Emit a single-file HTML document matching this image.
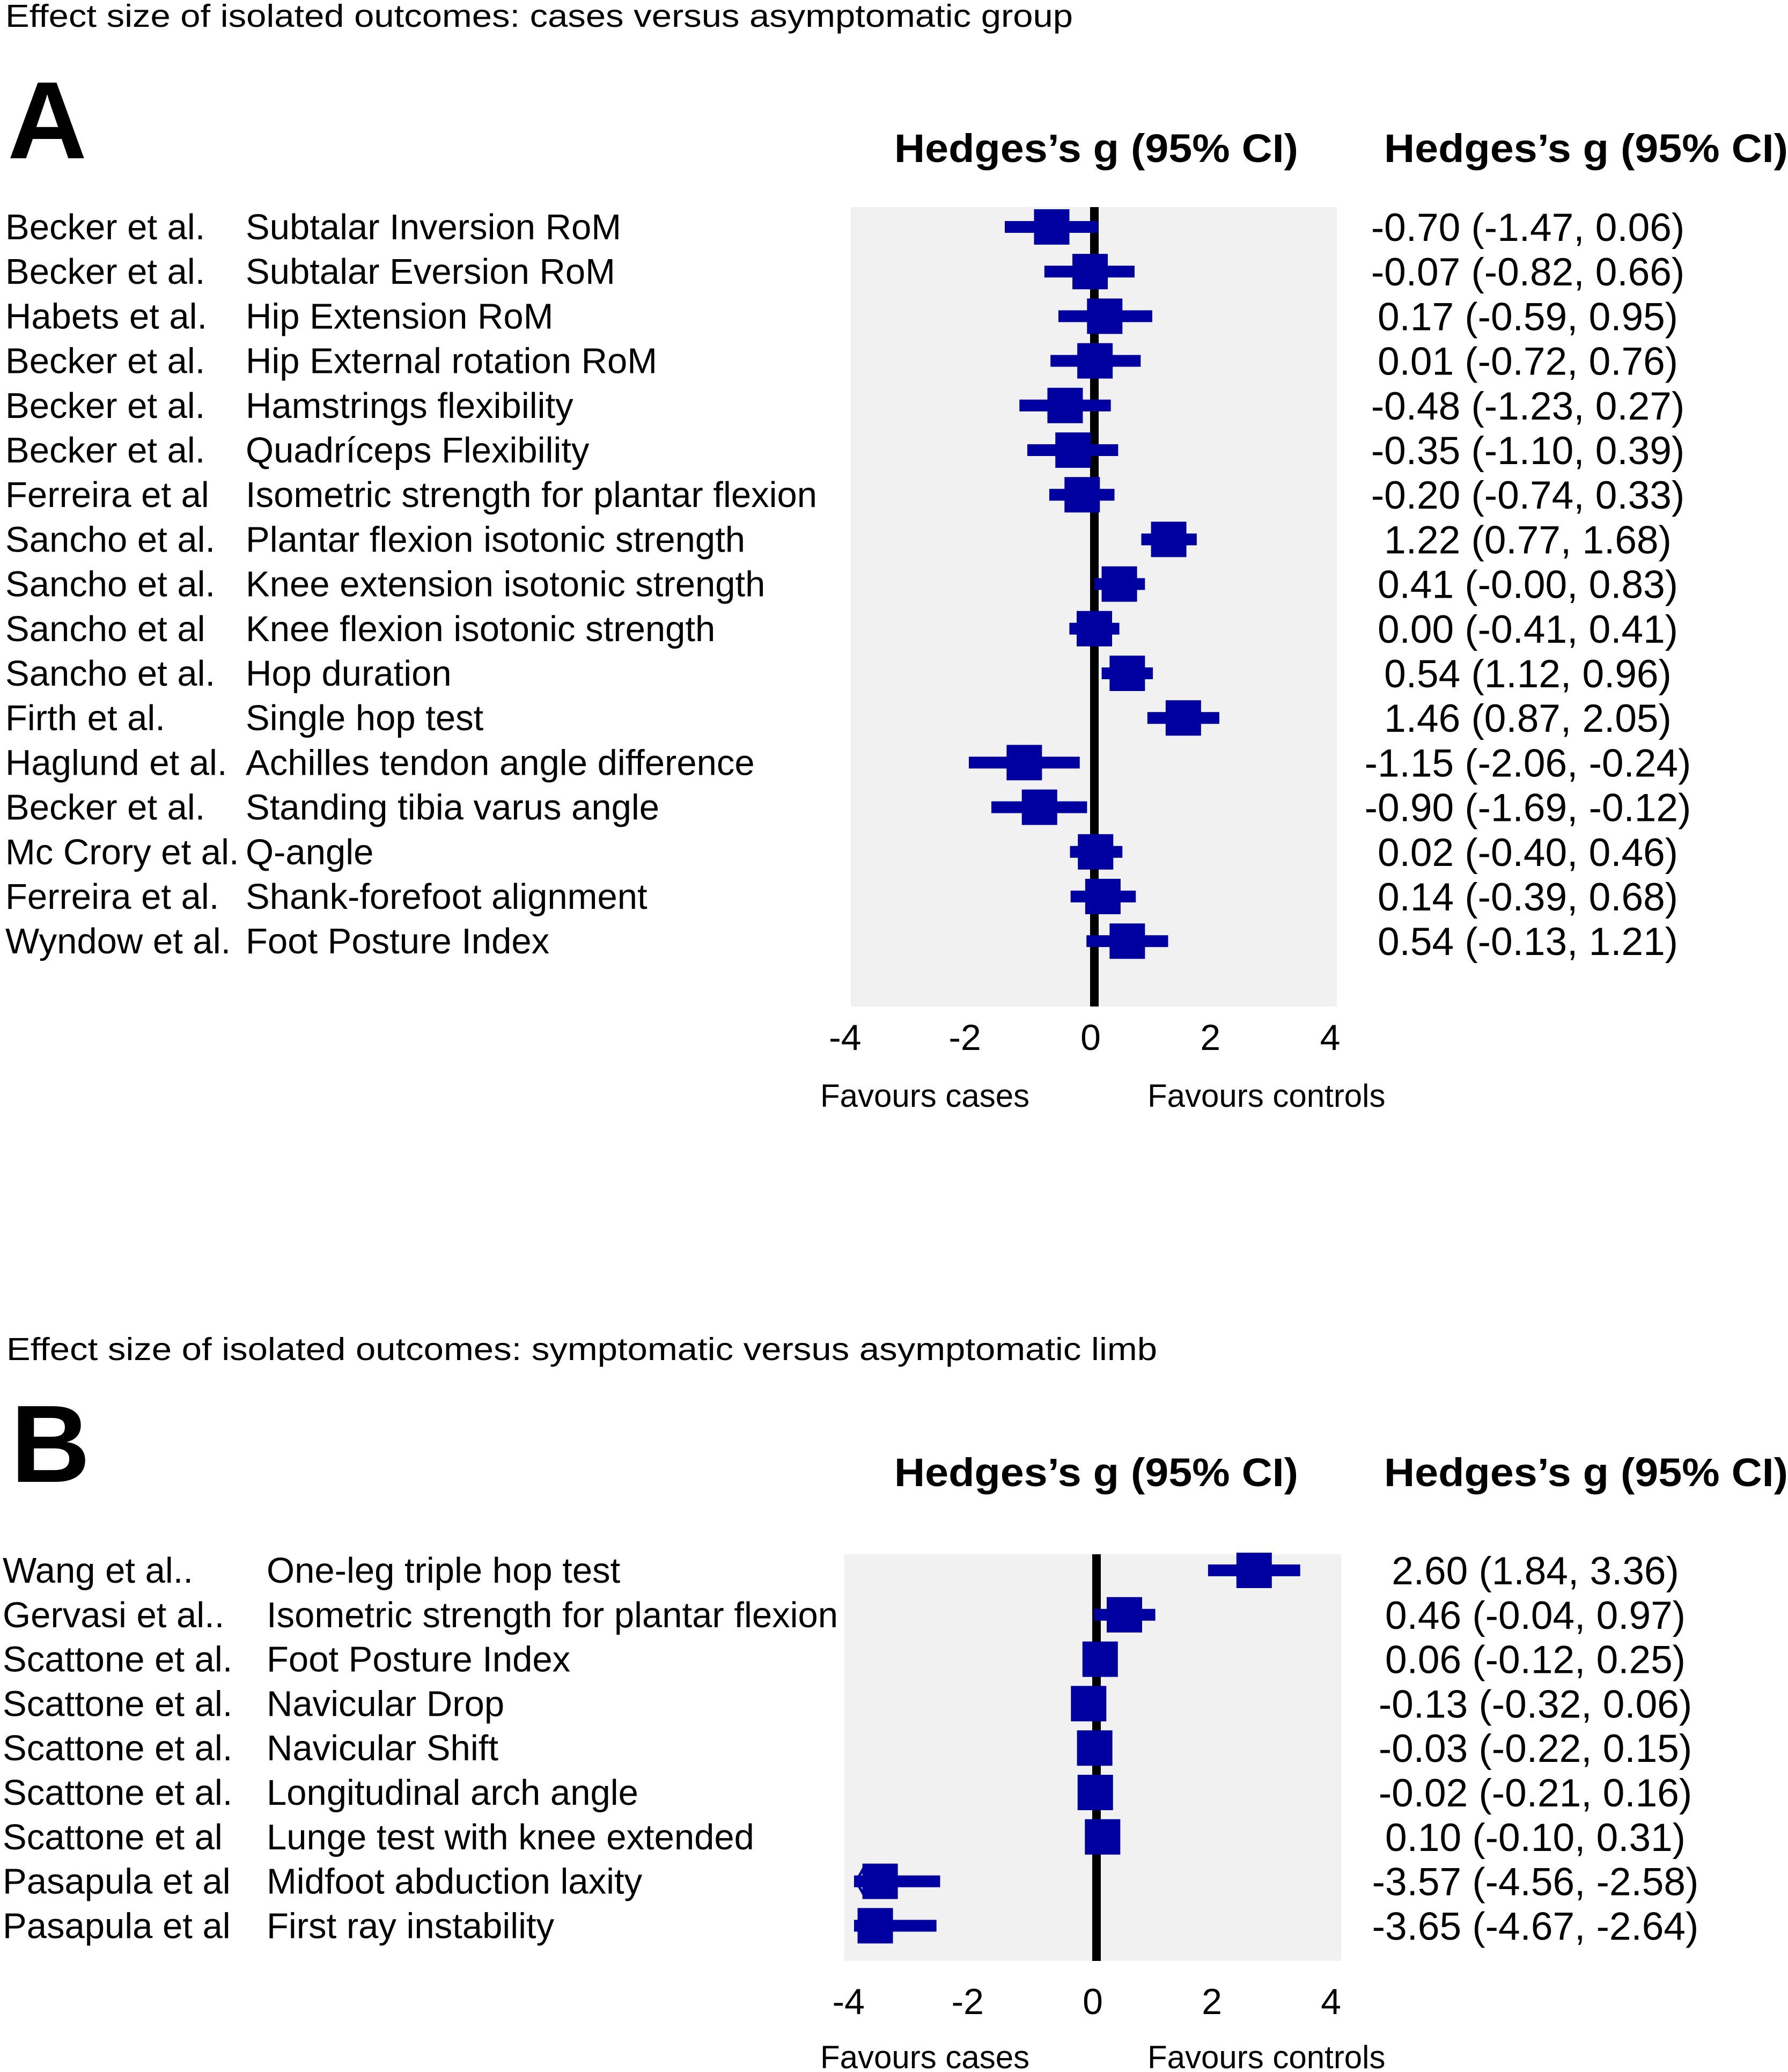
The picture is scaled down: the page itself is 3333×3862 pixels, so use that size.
<!DOCTYPE html>
<html><head><meta charset="utf-8"><style>
html,body{margin:0;padding:0;background:#fff}
svg{display:block;font-family:"Liberation Sans",Arial,sans-serif}
</style></head><body>
<svg id="fig" width="3333" height="3862" viewBox="0 0 3333 3862" xmlns="http://www.w3.org/2000/svg">
<text x="10" y="50" font-size="59" textLength="1990" lengthAdjust="spacingAndGlyphs">Effect size of isolated outcomes: cases versus asymptomatic group</text>
<text x="14" y="295" font-size="205" font-weight="bold">A</text>
<text x="1667" y="302" font-size="74" font-weight="bold" textLength="753" lengthAdjust="spacingAndGlyphs">Hedges’s g (95% CI)</text>
<text x="2580" y="302" font-size="74" font-weight="bold" textLength="753" lengthAdjust="spacingAndGlyphs">Hedges’s g (95% CI)</text>
<text x="12" y="2535" font-size="59" textLength="2145" lengthAdjust="spacingAndGlyphs">Effect size of isolated outcomes: symptomatic versus asymptomatic limb</text>
<text x="20" y="2762" font-size="205" font-weight="bold">B</text>
<text x="1667" y="2770" font-size="74" font-weight="bold" textLength="753" lengthAdjust="spacingAndGlyphs">Hedges’s g (95% CI)</text>
<text x="2580" y="2770" font-size="74" font-weight="bold" textLength="753" lengthAdjust="spacingAndGlyphs">Hedges’s g (95% CI)</text>
</svg>
<script>
const studiesA = ["Becker et al.","Becker et al.","Habets et al.","Becker et al.","Becker et al.","Becker et al.","Ferreira et al","Sancho et al.","Sancho et al.","Sancho et al","Sancho et al.","Firth et al.","Haglund et al.","Becker et al.","Mc Crory et al.","Ferreira et al.","Wyndow et al."];
const outcomesA = ["Subtalar Inversion RoM","Subtalar Eversion RoM","Hip Extension RoM","Hip External rotation RoM","Hamstrings flexibility","Quadríceps Flexibility","Isometric strength for plantar flexion","Plantar flexion isotonic strength","Knee extension isotonic strength","Knee flexion isotonic strength","Hop duration","Single hop test","Achilles tendon angle difference","Standing tibia varus angle","Q-angle","Shank-forefoot alignment","Foot Posture Index"];
const estA = [-0.70,-0.07,0.17,0.01,-0.48,-0.35,-0.20,1.22,0.41,0.00,0.54,1.46,-1.15,-0.90,0.02,0.14,0.54];
const lowA = [-1.47,-0.82,-0.59,-0.72,-1.23,-1.10,-0.74,0.77,-0.00,-0.41,0.12,0.87,-2.06,-1.69,-0.40,-0.39,-0.13];
const highA = [0.06,0.66,0.95,0.76,0.27,0.39,0.33,1.68,0.83,0.41,0.96,2.05,-0.24,-0.12,0.46,0.68,1.21];
const labelsA = ["-0.70 (-1.47, 0.06)","-0.07 (-0.82, 0.66)","0.17 (-0.59, 0.95)","0.01 (-0.72, 0.76)","-0.48 (-1.23, 0.27)","-0.35 (-1.10, 0.39)","-0.20 (-0.74, 0.33)","1.22 (0.77, 1.68)","0.41 (-0.00, 0.83)","0.00 (-0.41, 0.41)","0.54 (1.12, 0.96)","1.46 (0.87, 2.05)","-1.15 (-2.06, -0.24)","-0.90 (-1.69, -0.12)","0.02 (-0.40, 0.46)","0.14 (-0.39, 0.68)","0.54 (-0.13, 1.21)"];
const studiesB = ["Wang et al..","Gervasi et al..","Scattone et al.","Scattone et al.","Scattone et al.","Scattone et al.","Scattone et al","Pasapula et al","Pasapula et al"];
const outcomesB = ["One-leg triple hop test","Isometric strength for plantar flexion","Foot Posture Index","Navicular Drop","Navicular Shift","Longitudinal arch angle","Lunge test with knee extended","Midfoot abduction laxity","First ray instability"];
const estB = [2.60,0.46,0.06,-0.13,-0.03,-0.02,0.10,-3.57,-3.65];
const lowB = [1.84,-0.04,-0.12,-0.32,-0.22,-0.21,-0.10,-4.56,-4.67];
const highB = [3.36,0.97,0.25,0.06,0.15,0.16,0.31,-2.58,-2.64];
const labelsB = ["2.60 (1.84, 3.36)","0.46 (-0.04, 0.97)","0.06 (-0.12, 0.25)","-0.13 (-0.32, 0.06)","-0.03 (-0.22, 0.15)","-0.02 (-0.21, 0.16)","0.10 (-0.10, 0.31)","-3.57 (-4.56, -2.58)","-3.65 (-4.67, -2.64)"];
const ticks = [-4,-2,0,2,4];

const NS="http://www.w3.org/2000/svg";
const svg=document.getElementById('fig');
function mk(tag,attrs,parent){const e=document.createElementNS(NS,tag);for(const k in attrs)e.setAttribute(k,attrs[k]);(parent||svg).appendChild(e);return e;}

function panel(cfg){
  const xs=v=>cfg.zero+v*cfg.unit;
  const ys=i=>cfg.y0+i*cfg.step;
  const g=mk('g',{});
  
  
  const bg=mk('rect',{x:cfg.gx0,y:cfg.gy0,width:cfg.gx1-cfg.gx0,height:cfg.gy1-cfg.gy0,fill:'#f1f1f1'},g);
  
  
  const zl=mk('rect',{x:xs(0)-8,y:cfg.gy0,width:16,height:cfg.gy1-cfg.gy0,fill:'#000'},g);
  
  
  cfg.est.forEach((e,i)=>{
    const y=ys(i);
    const lo=Math.max(cfg.low[i],-4), hi=Math.min(cfg.high[i],4);
    const ci=mk('rect',{x:xs(lo),y:y-11,width:xs(hi)-xs(lo),height:22,fill:'#0000a0'},g);
    
    
    const bx=mk('rect',{x:xs(e)-33,y:y-33,width:66,height:66,fill:'#0000a0'},g);
    
    
    if(cfg.low[i]<-4){
      const a=mk('polyline',{points:(xs(-4)+22)+','+(y-32)+' '+(xs(-4)+4)+','+y+' '+(xs(-4)+22)+','+(y+32),fill:'none',stroke:'#0000a0','stroke-width':5},g);
      
      
    }
    const s=mk('text',{x:cfg.sx,y:y+23,'font-size':67},g); s.textContent=cfg.studies[i];
    
    
    const o=mk('text',{x:cfg.ox,y:y+23,'font-size':67},g); o.textContent=cfg.outcomes[i];
    
    
    const v=mk('text',{x:cfg.vx,y:y+26,'font-size':73,'text-anchor':'middle'},g); v.textContent=cfg.labels[i];
    
    
  });
  ticks.forEach(t=>{
    const tx=mk('text',{x:xs(t)+12-t*2,y:cfg.ty,'font-size':68,'text-anchor':'end'},g); tx.textContent=String(t);
    
    
  });
  const f1=mk('text',{x:1529,y:cfg.fy,'font-size':60},g); f1.textContent='Favours cases';
  
  
  const f2=mk('text',{x:2139,y:cfg.fy,'font-size':60},g); f2.textContent='Favours controls';
  
  
}
panel({name:'panel-a',zero:2040,unit:113.6,y0:423,step:83.2,gx0:1586,gx1:2492,gy0:386,gy1:1876,
  est:estA,low:lowA,high:highA,studies:studiesA,outcomes:outcomesA,labels:labelsA,
  sx:10,ox:458,vx:2848,ty:1957,fy:2063});
panel({name:'panel-b',zero:2044,unit:113,y0:2927,step:82.8,gx0:1574,gx1:2500,gy0:2897,gy1:3655,
  est:estB,low:lowB,high:highB,studies:studiesB,outcomes:outcomesB,labels:labelsB,
  sx:5,ox:497,vx:2862,ty:3754,fy:3855});
</script>
</body></html>
